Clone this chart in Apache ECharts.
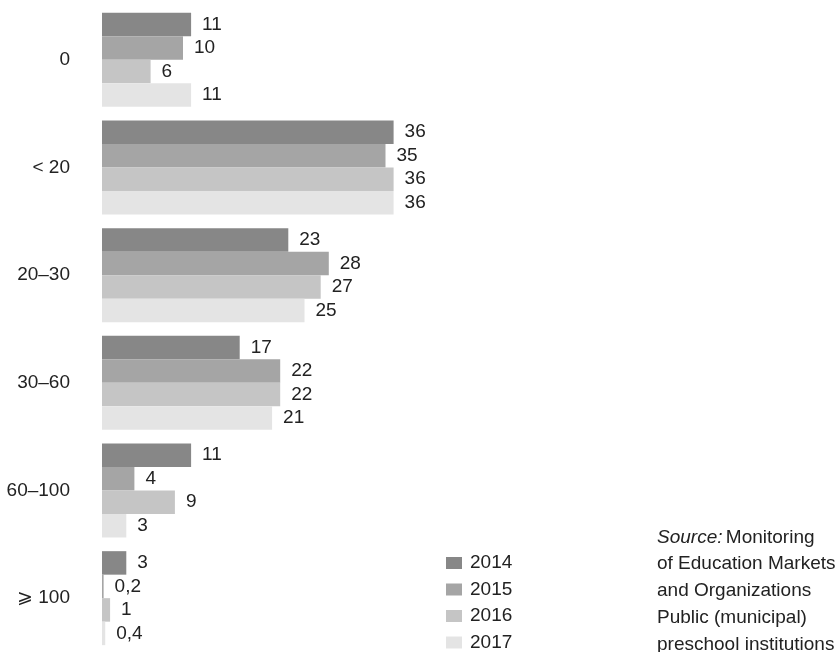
<!DOCTYPE html>
<html>
<head>
<meta charset="utf-8">
<script src="https://cdn.jsdelivr.net/npm/echarts@6/dist/echarts.min.js"></script>
<style>html,body{margin:0;padding:0;background:#fff}#c{width:840px;height:652px}</style>
</head>
<body>
<div id="c"></div>
<script>
const categories = ['0', '< 20', '20–30', '30–60', '60–100', '⩾ 100'];
const seriesNames = ['2014', '2015', '2016', '2017'];
const values2014 = [11, 36, 23, 17, 11, 3];
const values2015 = [10, 35, 28, 22, 4, 0.2];
const values2016 = [6, 36, 27, 22, 9, 1];
const values2017 = [11, 36, 25, 21, 3, 0.4];
const colors = ['#878787', '#a5a5a5', '#c5c5c5', '#e4e4e4'];
const sourceLines = ['Monitoring', 'of Education Markets', 'and Organizations', 'Public (municipal)', 'preschool institutions'];

const FONT = '"Liberation Sans", Arial, sans-serif';
const FS = 19;
const TXT = '#222';
const allValues = [values2014, values2015, values2016, values2017];

const chart = echarts.init(document.getElementById('c'), null, {renderer: 'canvas'});
chart.setOption({
  animation: false,
  backgroundColor: '#fff',
  textStyle: {fontFamily: FONT, color: TXT},
  grid: {left: 102, top: 6, width: 324, height: 652.8, containLabel: false},
  xAxis: {type: 'value', min: 0, max: 40, show: false},
  yAxis: {
    type: 'category', data: categories, inverse: true,
    axisLine: {show: false}, axisTick: {show: false},
    axisLabel: {fontSize: FS, color: TXT, fontFamily: FONT, margin: 32, align: 'right'}
  },
  legend: {
    orient: 'vertical', left: 446, top: 553, padding: 0, height: 140,
    itemWidth: 16, itemHeight: 12, itemGap: 6.5,
    icon: 'rect',
    textStyle: {fontSize: FS, color: TXT, fontFamily: FONT, lineHeight: 20, padding: [0, 0, 0, 3]},
    data: seriesNames
  },
  graphic: [{
    type: 'text', left: 657, top: 528,
    style: {
      text: '{i|Source:} {n|' + sourceLines[0] + '}\n' + sourceLines.slice(1).map(s => '{n|' + s + '}').join('\n'),
      rich: {
        i: {fontStyle: 'italic', fontSize: FS, fontFamily: FONT, fill: TXT, lineHeight: 26.7},
        n: {fontSize: FS, fontFamily: FONT, fill: TXT, lineHeight: 26.7}
      }
    }
  }],
  series: seriesNames.map((name, i) => ({
    name: name, type: 'bar', data: allValues[i],
    barGap: '0%', barCategoryGap: '12.7%',
    itemStyle: {color: colors[i]},
    label: {
      show: true, position: 'right', distance: 11,
      fontSize: FS, color: TXT, fontFamily: FONT,
      formatter: p => String(p.value).replace('.', ',')
    }
  }))
});
</script>
</body>
</html>
